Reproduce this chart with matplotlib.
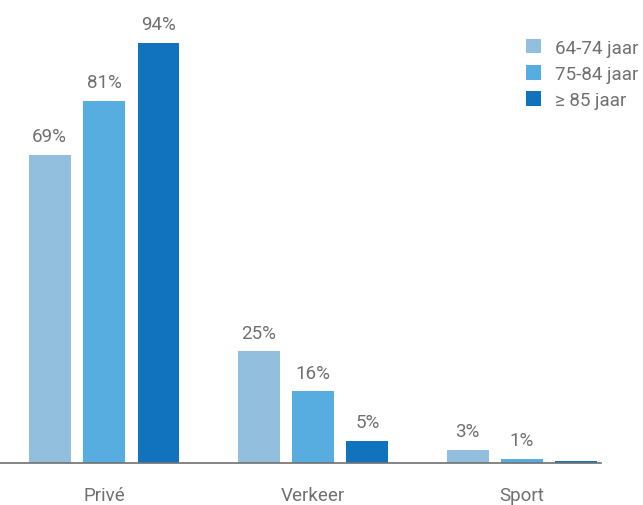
import numpy as np
import matplotlib.pyplot as plt

plt.rcParams['font.family'] = ['Roboto', 'DejaVu Sans']

# aandeel per leeftijdsgroep en context (%)
categories = ['Privé', 'Verkeer', 'Sport']
series_names = ['64-74 jaar', '75-84 jaar', '≥ 85 jaar']
pct_64_74 = [69, 25, 3]
pct_75_84 = [81, 16, 1]
pct_85 = [94, 5, 0.4]
labels_85 = ['94%', '5%', '']

colors = ['#93bfde', '#57ace0', '#1172bd']
grey = '#707070'

fig = plt.figure(figsize=(6.43, 5.06), dpi=100)
ax = fig.add_axes([0, 42 / 506, 601 / 643, 464 / 506])

x = np.arange(len(categories))
width = 0.2
offsets = [-0.26, 0, 0.26]
all_vals = [pct_64_74, pct_75_84, pct_85]

for vals, off, col, name in zip(all_vals, offsets, colors, series_names):
    bars = ax.bar(x + off, vals, width, color=col, label=name)
    if vals is pct_85:
        lbls = labels_85
    else:
        lbls = [f'{v}%' for v in vals]
    ax.bar_label(bars, labels=lbls, padding=7, fontsize=13.5, color=grey)

ax.set_xlim(-0.498, 2.378)
ax.set_ylim(0, 103.8)
ax.set_xticks(x)
ax.set_xticklabels(categories, fontsize=13.5, color=grey)
ax.tick_params(axis='x', length=0, pad=16.5)
ax.set_yticks([])
for side in ['top', 'left', 'right']:
    ax.spines[side].set_visible(False)
ax.spines['bottom'].set_color(grey)
ax.spines['bottom'].set_linewidth(1.2)

fig.legend(loc='upper left', bbox_to_anchor=(518 / 643, 1 - 32 / 506),
           frameon=False, fontsize=13.5, labelcolor=grey,
           handlelength=0.85, handleheight=0.85, handletextpad=0.7,
           labelspacing=0.45, borderaxespad=0)

fig.savefig('out.png', dpi=100)
